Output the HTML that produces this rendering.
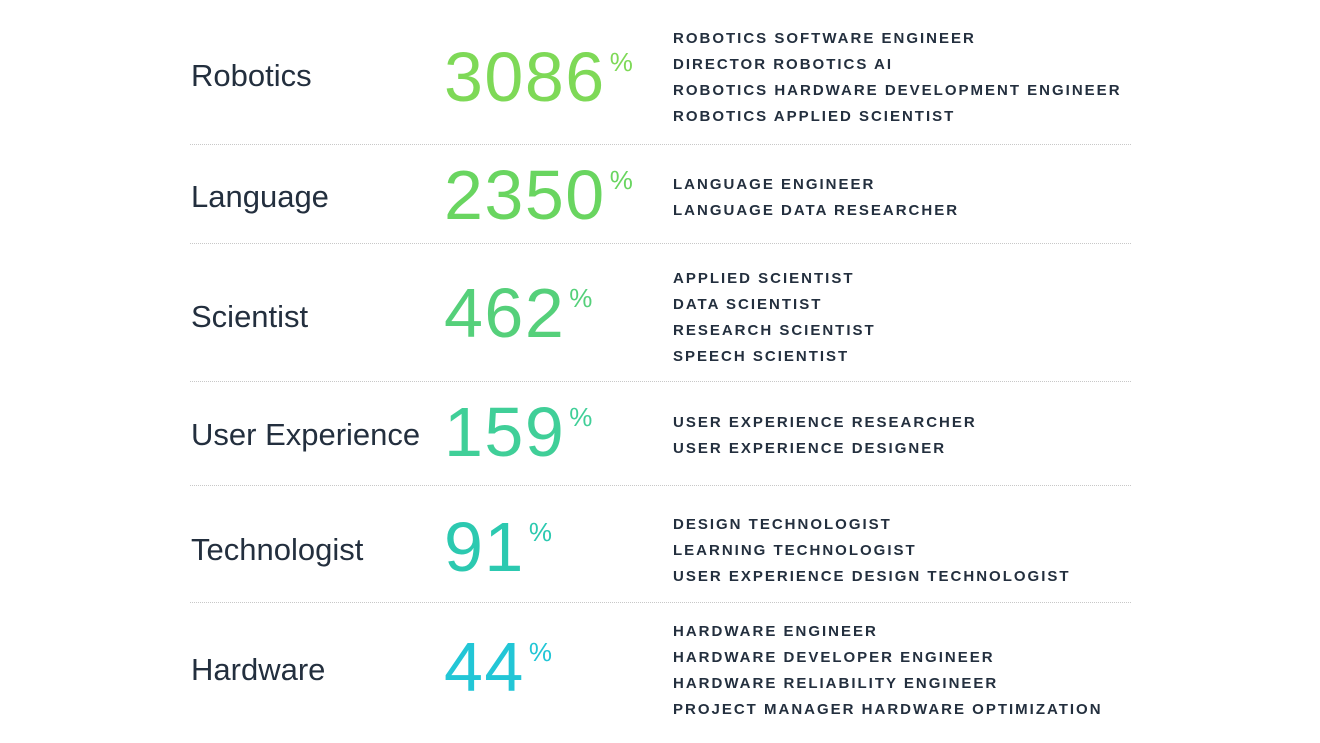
<!DOCTYPE html>
<html><head><meta charset="utf-8"><style>
body{margin:0;width:1320px;height:743px;background:#fff;position:relative;overflow:hidden;font-family:"Liberation Sans","DejaVu Sans",sans-serif;}
.l{position:absolute;left:191px;font-size:31px;color:#232f3e;line-height:1;}
.n{position:absolute;left:444px;font-size:70px;font-weight:300;line-height:1;letter-spacing:1.5px}
.n sup{font-size:26px;vertical-align:0;position:relative;top:-30px;margin-left:4px;letter-spacing:0}
.t{position:absolute;left:673px;font-size:15px;font-weight:bold;color:#232f3e;letter-spacing:2px;line-height:26px;}
.d{position:absolute;left:190px;width:941px;border-top:1.5px dotted #c8c8c8;}
</style></head><body>
<div class="l" style="top:60px">Robotics</div>
<div class="l" style="top:181px">Language</div>
<div class="l" style="top:301px">Scientist</div>
<div class="l" style="top:419px">User Experience</div>
<div class="l" style="top:534px">Technologist</div>
<div class="l" style="top:654px">Hardware</div>

<div class="n" style="top:42px;color:#7ed957">3086<sup>%</sup></div>
<div class="n" style="top:160px;color:#69d560">2350<sup>%</sup></div>
<div class="n" style="top:278px;color:#55d07a">462<sup>%</sup></div>
<div class="n" style="top:397px;color:#40cf98">159<sup>%</sup></div>
<div class="n" style="top:512px;color:#2cc9b0">91<sup>%</sup></div>
<div class="n" style="top:632px;color:#22c6d6">44<sup>%</sup></div>

<div class="t" style="top:26px">ROBOTICS SOFTWARE ENGINEER<br>DIRECTOR ROBOTICS AI<br>ROBOTICS HARDWARE DEVELOPMENT ENGINEER<br>ROBOTICS APPLIED SCIENTIST</div>
<div class="t" style="top:172px">LANGUAGE ENGINEER<br>LANGUAGE DATA RESEARCHER</div>
<div class="t" style="top:266px">APPLIED SCIENTIST<br>DATA SCIENTIST<br>RESEARCH SCIENTIST<br>SPEECH SCIENTIST</div>
<div class="t" style="top:410px">USER EXPERIENCE RESEARCHER<br>USER EXPERIENCE DESIGNER</div>
<div class="t" style="top:512px">DESIGN TECHNOLOGIST<br>LEARNING TECHNOLOGIST<br>USER EXPERIENCE DESIGN TECHNOLOGIST</div>
<div class="t" style="top:619px">HARDWARE ENGINEER<br>HARDWARE DEVELOPER ENGINEER<br>HARDWARE RELIABILITY ENGINEER<br>PROJECT MANAGER HARDWARE OPTIMIZATION</div>

<div class="d" style="top:144px"></div>
<div class="d" style="top:243px"></div>
<div class="d" style="top:381px"></div>
<div class="d" style="top:485px"></div>
<div class="d" style="top:602px"></div>
</body></html>
